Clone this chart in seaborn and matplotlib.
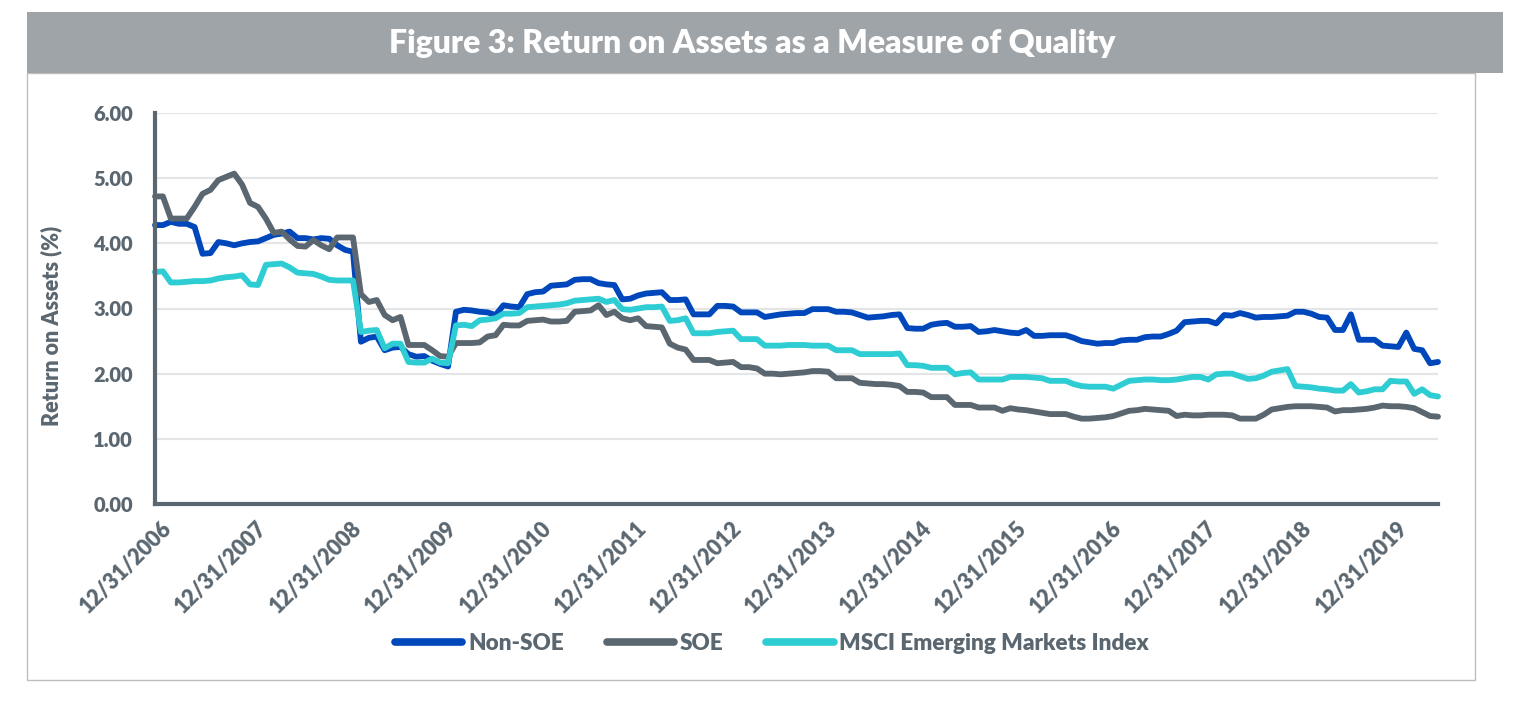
import numpy as np
import pandas as pd
import matplotlib
matplotlib.use("Agg")
import matplotlib.pyplot as plt
import matplotlib.transforms as mtransforms
from matplotlib.patches import Rectangle
from matplotlib.lines import Line2D
import seaborn as sns

# ---------------- data (monthly, 12/31/2006 .. 6/30/2020) ----------------
series_names = ["Non-SOE", "SOE", "MSCI Emerging Markets Index"]

non_soe = [
    4.28, 4.28, 4.33, 4.30, 4.30, 4.25, 3.84, 3.85, 4.02, 4.00, 3.97, 4.00,
    4.02, 4.03, 4.08, 4.13, 4.15, 4.18, 4.08, 4.08, 4.06, 4.08, 4.07, 3.97,
    3.90, 3.87, 2.49, 2.55, 2.57, 2.36, 2.40, 2.41, 2.30, 2.26, 2.27, 2.20,
    2.15, 2.11, 2.95, 2.98, 2.97, 2.95, 2.94, 2.90, 3.05, 3.03, 3.02, 3.22,
    3.25, 3.26, 3.35, 3.36, 3.37, 3.44, 3.45, 3.45, 3.39, 3.37, 3.36, 3.14,
    3.15, 3.20, 3.23, 3.24, 3.25, 3.13, 3.13, 3.14, 2.91, 2.91, 2.91, 3.04,
    3.04, 3.03, 2.94, 2.94, 2.94, 2.87, 2.89, 2.91, 2.92, 2.93, 2.93, 2.99,
    2.99, 2.99, 2.95, 2.95, 2.94, 2.90, 2.86, 2.87, 2.88, 2.90, 2.91, 2.70,
    2.69, 2.69, 2.75, 2.77, 2.78, 2.72, 2.72, 2.73, 2.64, 2.65, 2.67, 2.65,
    2.63, 2.62, 2.67, 2.58, 2.58, 2.59, 2.59, 2.59, 2.55, 2.50, 2.48, 2.46,
    2.47, 2.47, 2.51, 2.52, 2.52, 2.56, 2.57, 2.57, 2.61, 2.66, 2.79, 2.80,
    2.81, 2.81, 2.77, 2.90, 2.89, 2.93, 2.90, 2.86, 2.87, 2.87, 2.88, 2.89,
    2.95, 2.95, 2.92, 2.87, 2.86, 2.67, 2.67, 2.91, 2.52, 2.52, 2.52, 2.43,
    2.42, 2.41, 2.63, 2.38, 2.36, 2.16, 2.18,
]

soe = [
    4.72, 4.72, 4.38, 4.38, 4.38, 4.56, 4.76, 4.82, 4.97, 5.02, 5.07, 4.90,
    4.62, 4.56, 4.38, 4.16, 4.18, 4.06, 3.96, 3.95, 4.05, 3.97, 3.91, 4.09,
    4.09, 4.09, 3.22, 3.10, 3.13, 2.90, 2.82, 2.87, 2.44, 2.44, 2.44, 2.36,
    2.27, 2.26, 2.47, 2.47, 2.47, 2.48, 2.57, 2.59, 2.75, 2.74, 2.74, 2.81,
    2.82, 2.83, 2.80, 2.80, 2.81, 2.95, 2.96, 2.97, 3.05, 2.90, 2.95, 2.85,
    2.82, 2.85, 2.73, 2.72, 2.71, 2.46, 2.40, 2.37, 2.21, 2.21, 2.21, 2.16,
    2.17, 2.18, 2.10, 2.10, 2.08, 2.00, 2.00, 1.99, 2.00, 2.01, 2.02, 2.04,
    2.04, 2.03, 1.93, 1.93, 1.93, 1.86, 1.85, 1.84, 1.84, 1.83, 1.81, 1.72,
    1.72, 1.71, 1.64, 1.64, 1.64, 1.52, 1.52, 1.52, 1.48, 1.48, 1.48, 1.43,
    1.47, 1.45, 1.44, 1.42, 1.40, 1.38, 1.38, 1.38, 1.34, 1.31, 1.31, 1.32,
    1.33, 1.35, 1.39, 1.43, 1.44, 1.46, 1.45, 1.44, 1.43, 1.35, 1.37, 1.36,
    1.36, 1.37, 1.37, 1.37, 1.36, 1.31, 1.31, 1.31, 1.37, 1.45, 1.47, 1.49,
    1.50, 1.50, 1.50, 1.49, 1.48, 1.42, 1.44, 1.44, 1.45, 1.46, 1.48, 1.51,
    1.50, 1.50, 1.49, 1.47, 1.41, 1.35, 1.34,
]

msci = [
    3.56, 3.57, 3.40, 3.40, 3.41, 3.42, 3.42, 3.43, 3.46, 3.48, 3.49, 3.51,
    3.37, 3.36, 3.67, 3.68, 3.69, 3.63, 3.55, 3.54, 3.53, 3.49, 3.44, 3.43,
    3.43, 3.43, 2.64, 2.66, 2.67, 2.39, 2.46, 2.46, 2.18, 2.17, 2.17, 2.23,
    2.17, 2.16, 2.74, 2.75, 2.73, 2.82, 2.83, 2.85, 2.92, 2.92, 2.93, 3.02,
    3.03, 3.04, 3.05, 3.06, 3.08, 3.12, 3.13, 3.14, 3.15, 3.10, 3.13, 2.99,
    2.98, 3.00, 3.02, 3.02, 3.03, 2.81, 2.82, 2.85, 2.62, 2.62, 2.62, 2.64,
    2.65, 2.66, 2.53, 2.53, 2.53, 2.43, 2.43, 2.43, 2.44, 2.44, 2.44, 2.43,
    2.43, 2.43, 2.36, 2.36, 2.36, 2.30, 2.30, 2.30, 2.30, 2.30, 2.31, 2.13,
    2.13, 2.12, 2.09, 2.09, 2.09, 1.99, 2.01, 2.02, 1.91, 1.91, 1.91, 1.91,
    1.95, 1.95, 1.95, 1.94, 1.93, 1.89, 1.89, 1.89, 1.84, 1.81, 1.80, 1.80,
    1.80, 1.77, 1.83, 1.89, 1.90, 1.91, 1.91, 1.90, 1.90, 1.91, 1.93, 1.95,
    1.95, 1.91, 1.99, 2.00, 2.00, 1.96, 1.92, 1.93, 1.97, 2.03, 2.05, 2.07,
    1.81, 1.80, 1.79, 1.77, 1.76, 1.74, 1.74, 1.84, 1.71, 1.73, 1.76, 1.76,
    1.89, 1.88, 1.88, 1.69, 1.76, 1.67, 1.65,
]

tick_labels = ["12/31/2006", "12/31/2007", "12/31/2008", "12/31/2009",
               "12/31/2010", "12/31/2011", "12/31/2012", "12/31/2013",
               "12/31/2014", "12/31/2015", "12/31/2016", "12/31/2017",
               "12/31/2018", "12/31/2019"]

y_ticks = [0, 1, 2, 3, 4, 5, 6]

# ---------------- styling ----------------
sns.set_theme(style="white")
plt.rcParams["font.family"] = ["Lato", "DejaVu Sans"]
plt.rcParams["font.weight"] = "heavy"

WEIGHT = "heavy"
TEXT = "#5B6770"
colors = {"Non-SOE": "#0047BB", "SOE": "#5B6770",
          "MSCI Emerging Markets Index": "#2ECCD3"}

n = len(non_soe)
month = np.arange(n)
df = pd.DataFrame({
    "month": np.concatenate([month, month, month]),
    "roa": non_soe + soe + msci,
    "series": [series_names[0]] * n + [series_names[1]] * n + [series_names[2]] * n,
})

W, H = 1532, 711
fig = plt.figure(figsize=(W / 100, H / 100), dpi=100)
fig.patch.set_facecolor("white")

# frame + title banner
fig.add_artist(Rectangle((27 / W, 1 - 680 / H), (1475 - 27) / W, (680 - 73) / H,
                         transform=fig.transFigure, fill=False,
                         edgecolor="#BEBEBE", lw=1.0, zorder=0))
fig.add_artist(Rectangle((27 / W, 1 - 73 / H), (1503 - 27) / W, 61 / H,
                         transform=fig.transFigure, facecolor="#9FA4A8",
                         edgecolor="none", zorder=1))
fig.text(752 / W, 1 - 43 / H, "Figure 3: Return on Assets as a Measure of Quality",
         ha="center", va="center", color="white", fontsize=23, fontweight=WEIGHT)

ax = fig.add_axes([155 / W, 1 - 504 / H, (1438 - 155) / W, (504 - 113) / H])

sns.lineplot(data=df, x="month", y="roa", hue="series", hue_order=series_names,
             palette=colors, linewidth=4.2, ax=ax, legend=False)
for ln in ax.get_lines():
    ln.set_solid_capstyle("round")
    ln.set_solid_joinstyle("round")
    ln.set_clip_on(False)

ax.set_xlim(0, n - 1)
ax.set_ylim(0, 6)
ax.set_yticks(y_ticks)
ax.set_yticklabels([f"{v:.2f}" for v in y_ticks])
ax.set_xticks(np.arange(0, n, 12)[:len(tick_labels)])
ax.set_xticklabels(tick_labels)

ax.yaxis.grid(True, color="#E4E5E7", lw=1.6)
ax.xaxis.grid(False)
ax.set_axisbelow(True)

for s in ["top", "right"]:
    ax.spines[s].set_visible(False)
for s in ["left", "bottom"]:
    ax.spines[s].set_color(TEXT)
    ax.spines[s].set_linewidth(3)

ax.tick_params(axis="y", length=0, colors=TEXT, labelsize=14.5, pad=16)
ax.tick_params(axis="x", length=0, colors=TEXT, labelsize=15.5, pad=10)
for lab in ax.get_yticklabels():
    lab.set_fontweight(WEIGHT)
offset = mtransforms.ScaledTranslation(6 / 100, 0, fig.dpi_scale_trans)
for lab in ax.get_xticklabels():
    lab.set_fontweight(WEIGHT)
    lab.set_rotation(45)
    lab.set_ha("right")
    lab.set_va("top")
    lab.set_rotation_mode("anchor")
    lab.set_transform(lab.get_transform() + offset)

ax.set_xlabel("")
ax.set_ylabel("Return on Assets (%)", color=TEXT, fontsize=15.5, fontweight=WEIGHT)
ax.yaxis.set_label_coords((62 - 155) / 1283, 0.455)

handles = [Line2D([0], [0], color=colors[s], lw=5.5, solid_capstyle="round")
           for s in series_names]
leg = fig.legend(handles, series_names, loc="center", bbox_to_anchor=(772 / W, 1 - 643 / H),
                 ncol=3, frameon=False, handlelength=3.0, handletextpad=0.25,
                 columnspacing=1.9, prop={"weight": WEIGHT, "size": 16.2})
for t in leg.get_texts():
    t.set_color(TEXT)

fig.savefig("out.png", dpi=100, facecolor="white")
